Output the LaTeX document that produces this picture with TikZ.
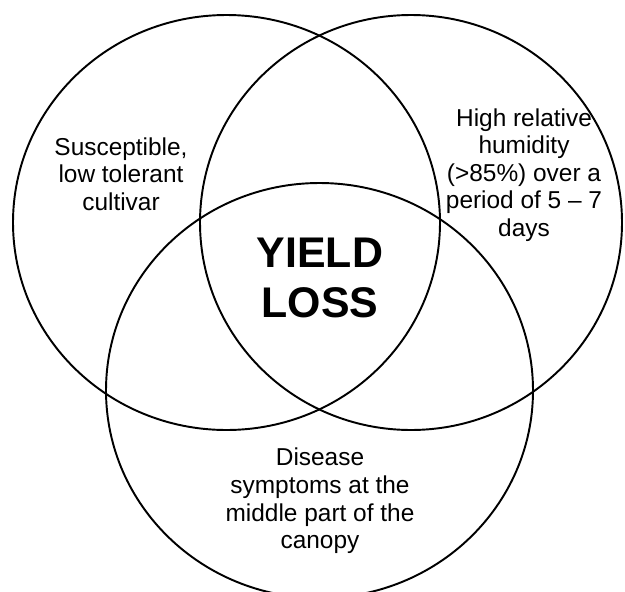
\documentclass[tikz,border=0pt]{standalone}
\usepackage{fontspec}
\setmainfont{Liberation Sans}
\usetikzlibrary{shapes.geometric}

\begin{document}
\begin{tikzpicture}[
  setring/.style={draw, line width=1.1pt, ellipse, minimum width=8.54cm, minimum height=8.3cm, inner sep=0pt},
  factorlabel/.style={align=center, font=\fontsize{13.9}{15.7}\selectfont},
  centerlabel/.style={align=center, font=\fontsize{24.4}{28.5}\selectfont\bfseries},
]
\useasboundingbox (0,0) rectangle (12.5,11.82);

% Drei Kreise
\node[setring] (cultivar) at (4.53, 7.37) {};
\node[setring, minimum width=8.44cm] (humidity) at (8.22, 7.37) {};
\node[setring] (canopy) at (6.39, 4.01) {};

% Beschriftungen
\node[factorlabel] (cultivarText) at (2.42, 8.34) {Susceptible,\\low tolerant\\cultivar};
\node[factorlabel] (humidityText) at (10.48, 8.32) {High relative\\humidity\\(>85\%) over a\\period of 5 -- 7\\days};
\node[factorlabel] (canopyText) at (6.40, 1.80) {Disease\\symptoms at the\\middle part of the\\canopy};
\node[centerlabel] (yieldLoss) at (6.40, 6.26) {YIELD\\LOSS};

\end{tikzpicture}
\end{document}
